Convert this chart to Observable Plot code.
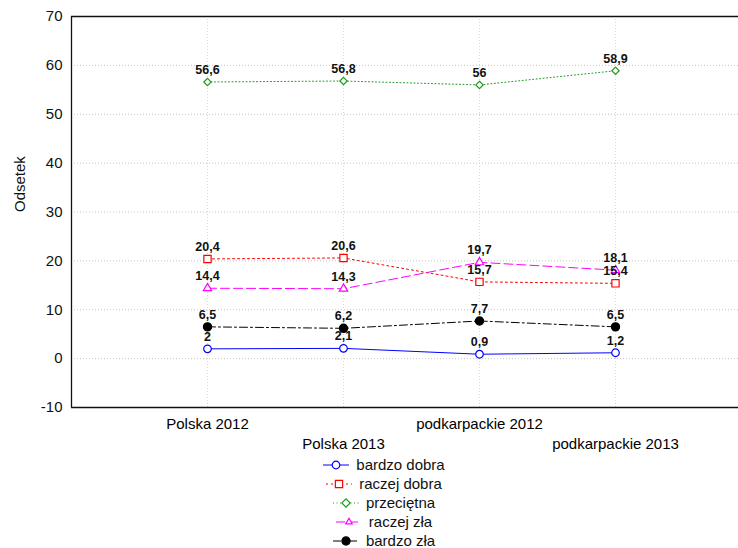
<!DOCTYPE html>
<html>
<head>
<meta charset="utf-8">
<script src="https://cdn.jsdelivr.net/npm/d3@7"></script>
<script src="https://cdn.jsdelivr.net/npm/@observablehq/plot@0.6"></script>
<style>
  html, body { margin: 0; padding: 0; background: #fff; width: 738px; height: 548px; overflow: hidden; }
  body { font-family: "Liberation Sans", Arial, sans-serif; position: relative; }
  #legend { position: absolute; left: 0; top: 455px; width: 768px; display: flex; flex-direction: column; align-items: center; }
  .row { display: flex; align-items: center; height: 19px; font-size: 15px; color: #111; }
  .row svg { margin-right: 7px; }
</style>
</head>
<body>
<div id="chart"></div>
<div id="legend"></div>
<script>
const categories = ["Polska 2012", "Polska 2013", "podkarpackie 2012", "podkarpackie 2013"];
const seriesNames = ["bardzo dobra", "raczej dobra", "przeciętna", "raczej zła", "bardzo zła"];
const bardzoDobra = [2, 2.1, 0.9, 1.2];
const raczejDobra = [20.4, 20.6, 15.7, 15.4];
const przecietna = [56.6, 56.8, 56, 58.9];
const raczejZla = [14.4, 14.3, 19.7, 18.1];
const bardzoZla = [6.5, 6.2, 7.7, 6.5];
const yTicks = [-10, 0, 10, 20, 30, 40, 50, 60, 70];

const seriesValues = [bardzoDobra, raczejDobra, przecietna, raczejZla, bardzoZla];
const styles = [
  {color: "#0000ff", dash: null, symbol: "circle", fill: "white", r: 3.8, w: 1},
  {color: "#ff0000", dash: "2,3", symbol: "square", fill: "white", r: 4.1, w: 1},
  {color: "#1e9a1e", dash: "1,2.5", symbol: "diamond2", fill: "white", r: 3.3, w: 1},
  {color: "#ff00ff", dash: "9,4", symbol: "triangle", fill: "white", r: 3.1, w: 1},
  {color: "#000000", dash: "8,3,2,3", symbol: "circle", fill: "black", r: 4.1, w: 1}
];

const rows = [];
seriesNames.forEach((name, s) => {
  seriesValues[s].forEach((v, i) => rows.push({series: name, s, i, v, label: String(v).replace(".", ",")}));
});

const marks = [
  Plot.gridY(yTicks, {stroke: "#c4c4c4", strokeOpacity: 1, strokeDasharray: "1,2"}),
  Plot.gridX([0, 1, 2, 3], {stroke: "#d8d8d8", strokeOpacity: 1, strokeDasharray: "1,2"}),
  Plot.ruleY([70, -10], {stroke: "#111", strokeWidth: 1.3}),
  Plot.ruleX([-1], {stroke: "#111", strokeWidth: 1.3}),
  Plot.axisY(yTicks, {tickSize: 0, tickPadding: 9, fontSize: 15, label: null, color: "#111", tickFormat: d => String(d)}),
  Plot.axisX([0, 2], {tickSize: 0, tickPadding: 11, fontSize: 15, label: null, tickFormat: i => categories[i]}),
  Plot.axisX([1, 3], {tickSize: 0, tickPadding: 31, fontSize: 15, label: null, tickFormat: i => categories[i]}),
  Plot.text(["Odsetek"], {frameAnchor: "left", dx: -51, rotate: -90, fontSize: 15, fill: "#111"})
];
seriesNames.forEach((name, s) => {
  const st = styles[s];
  const d = rows.filter(r => r.s === s);
  marks.push(Plot.line(d, {x: "i", y: "v", stroke: st.color, strokeWidth: st.w, strokeDasharray: st.dash}));
});
seriesNames.forEach((name, s) => {
  const st = styles[s];
  const d = rows.filter(r => r.s === s);
  marks.push(Plot.dot(d, {x: "i", y: "v", symbol: () => st.symbol, r: st.r, stroke: st.color, fill: st.fill, strokeWidth: 1.2}));
});
marks.push(Plot.text(rows, {x: "i", y: "v", text: "label", dy: -12, fontSize: 12.5, fontWeight: "bold", fill: "#111"}));

const chart = Plot.plot({
  width: 738,
  height: 455,
  marginTop: 16,
  marginBottom: 48,
  marginLeft: 71,
  marginRight: 0,
  style: {fontFamily: "Liberation Sans, Arial, sans-serif", background: "white"},
  x: {type: "linear", domain: [-1, 4], range: [71, 751]},
  y: {domain: [-10, 70]},
  symbol: {type: "identity"},
  marks
});
document.getElementById("chart").appendChild(chart);

// legend
const legend = d3.select("#legend");
seriesNames.forEach((name, s) => {
  const st = styles[s];
  const row = legend.append("div").attr("class", "row");
  const svg = row.append("svg").attr("width", 26).attr("height", 14);
  svg.append("line").attr("x1", 0).attr("x2", 26).attr("y1", 7).attr("y2", 7)
    .attr("stroke", st.color).attr("stroke-width", 1)
    .attr("stroke-dasharray", st.dash);
  const symMap = {circle: d3.symbolCircle, square: d3.symbolSquare, triangle: d3.symbolTriangle2};
  const sym = st.symbol === "diamond2"
    ? d3.symbol(d3.symbolSquare, Math.PI * st.r * st.r)
    : d3.symbol(symMap[st.symbol], Math.PI * st.r * st.r);
  svg.append("path").attr("d", sym()).attr("transform", `translate(13,7)${st.symbol === "diamond2" ? " rotate(45)" : ""}`)
    .attr("stroke", st.color).attr("fill", st.fill).attr("stroke-width", 1.2);
  row.append("span").text(name);
});
</script>
</body>
</html>
